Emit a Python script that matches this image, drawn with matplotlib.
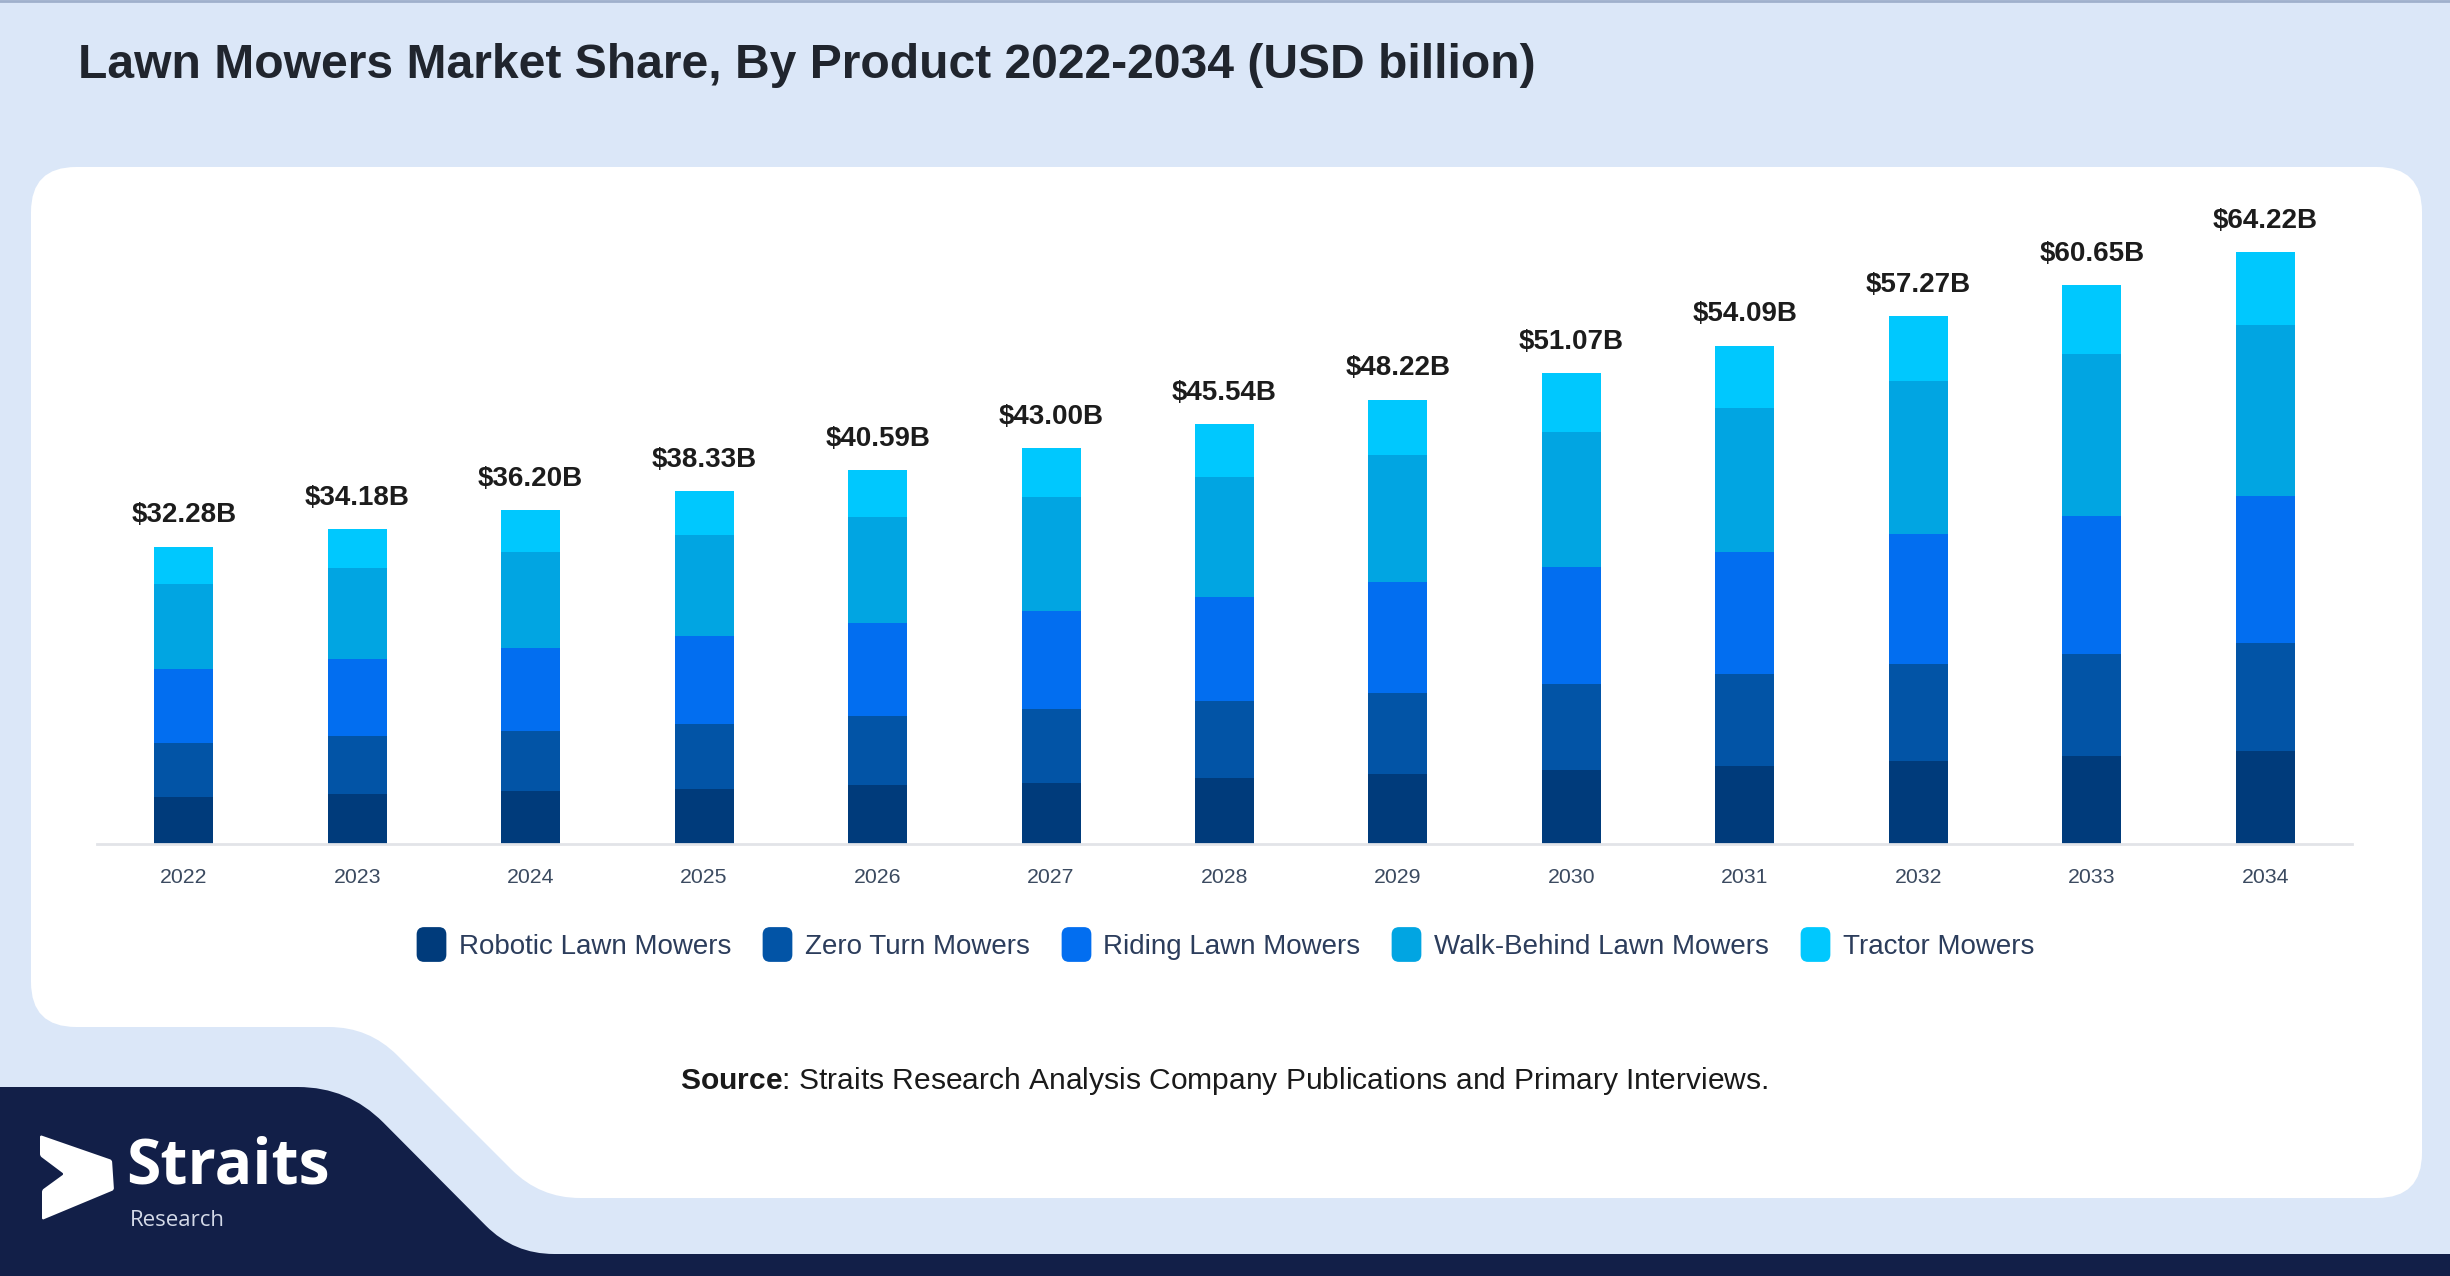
import numpy as np
import matplotlib.pyplot as plt
from matplotlib.path import Path
from matplotlib.patches import PathPatch
from matplotlib.lines import Line2D

plt.rcParams['font.family'] = ['Liberation Sans', 'DejaVu Sans']
plt.rcParams['mathtext.fontset'] = 'custom'
plt.rcParams['mathtext.rm'] = 'Liberation Sans'
plt.rcParams['mathtext.bf'] = 'Liberation Sans:bold'

years = ['2022', '2023', '2024', '2025', '2026', '2027', '2028',
         '2029', '2030', '2031', '2032', '2033', '2034']
totals = [32.28, 34.18, 36.20, 38.33, 40.59, 43.00, 45.54,
          48.22, 51.07, 54.09, 57.27, 60.65, 64.22]

# segment values (USD billion)
robotic = [5.11, 5.44, 5.73, 5.96, 6.41, 6.67, 7.16, 7.64, 8.04, 8.49, 9.01, 9.50, 10.12]
zero_turn = [5.85, 6.23, 6.58, 7.10, 7.47, 7.94, 8.33, 8.79, 9.32, 9.93, 10.48, 11.17, 11.74]
riding = [8.02, 8.43, 8.98, 9.48, 10.13, 10.69, 11.31, 11.97, 12.74, 13.29, 14.18, 14.94, 15.91]
walk_behind = [9.21, 9.85, 10.37, 11.02, 11.50, 12.36, 13.05, 13.86, 14.66, 15.63, 16.57, 17.58, 18.54]
tractor = [4.09, 4.23, 4.54, 4.77, 5.08, 5.34, 5.69, 5.96, 6.31, 6.75, 7.03, 7.46, 7.91]

series = [robotic, zero_turn, riding, walk_behind, tractor]
names = ['Robotic Lawn Mowers', 'Zero Turn Mowers', 'Riding Lawn Mowers',
         'Walk-Behind Lawn Mowers', 'Tractor Mowers']
colors = ['#003b7b', '#0254a6', '#026ef0', '#01a5e2', '#00c8fe']

W, H = 2450, 1276
fig = plt.figure(figsize=(W / 100, H / 100), dpi=100)
fig.patch.set_facecolor('#dbe7f8')


def rounded_path(pts, radii):
    # polygon with corners cut by quadratic curves
    verts, codes = [], []
    n = len(pts)
    for i in range(n):
        p0 = np.array(pts[i - 1], float)
        p1 = np.array(pts[i], float)
        p2 = np.array(pts[(i + 1) % n], float)
        r = radii[i]
        d1 = (p0 - p1) / np.linalg.norm(p0 - p1)
        d2 = (p2 - p1) / np.linalg.norm(p2 - p1)
        a = p1 + d1 * r
        b = p1 + d2 * r
        verts.append(a)
        codes.append(Path.MOVETO if i == 0 else Path.LINETO)
        verts += [p1, b]
        codes += [Path.CURVE3, Path.CURVE3]
    verts.append(verts[0])
    codes.append(Path.CLOSEPOLY)
    return Path(verts, codes)


# background shapes in pixel coordinates
bg = fig.add_axes([0, 0, 1, 1], zorder=0)
bg.set_xlim(0, W)
bg.set_ylim(H, 0)
bg.axis('off')

white_pts = [(31, 167), (2422, 167), (2422, 1198), (540, 1198), (369, 1027), (31, 1027)]
bg.add_patch(PathPatch(rounded_path(white_pts, [45, 45, 45, 40, 40, 45]),
                       facecolor='white', edgecolor='none'))

navy_pts = [(0, 1087), (348, 1087), (514, 1254), (W, 1254), (W, H), (0, H)]
bg.add_patch(PathPatch(rounded_path(navy_pts, [0, 50, 40, 0, 0, 0]),
                       facecolor='#121f48', edgecolor='none'))
bg.plot([0, W], [1, 1], color='#9fb0cc', lw=2)

# logo
arrow = [(40, 1135), (112, 1160), (114, 1190), (42, 1220), (42, 1190), (64, 1174), (40, 1156)]
bg.add_patch(PathPatch(rounded_path(arrow, [2] * 7), facecolor='white', edgecolor='none'))
bg.text(126, 1184, 'Straits', color='white', fontsize=45, fontweight='bold',
        family=['Open Sans', 'DejaVu Sans'], va='baseline', ha='left')
bg.text(130, 1226, 'Research', color='#d4dae8', fontsize=16,
        family=['Open Sans', 'DejaVu Sans'], va='baseline', ha='left')

# title and source
bg.text(78, 66, 'Lawn Mowers Market Share, By Product 2022-2034 (USD billion)',
        fontsize=34.6, fontweight='bold', color='#20252e', va='center', ha='left')
bg.text(1224, 1081, r'$\bf{Source}$: Straits Research Analysis Company Publications and Primary Interviews.',
        fontsize=21.6, color='#1a1a1a', va='center', ha='center')

# chart
ax = fig.add_axes([97 / W, 1 - 844 / H, (2352 - 97) / W, 645 / H], zorder=1)
ax.set_facecolor('none')
x = np.arange(len(years))
bottom = np.zeros(len(years))
for vals, name, c in zip(series, names, colors):
    ax.bar(x, vals, width=0.34, bottom=bottom, color=c, label=name, linewidth=0)
    bottom += np.array(vals)

for xi, top, t in zip(x, bottom, totals):
    ax.annotate(f'${t:.2f}B', (xi, top), xytext=(0, 22.5), textcoords='offset points',
                ha='center', va='center', fontsize=20, fontweight='bold', color='#1c1c1c',
                annotation_clip=False)

ax.set_xlim(-0.5, len(years) - 0.5)
ax.set_ylim(0, 70)
ax.set_xticks(x)
ax.set_xticklabels(years)
ax.tick_params(axis='x', length=0, pad=17, labelsize=15.3, labelcolor='#3b4a60')
ax.set_yticks([])
for s in ['top', 'right', 'left']:
    ax.spines[s].set_visible(False)
ax.spines['bottom'].set_color('#e2e4e8')
ax.spines['bottom'].set_linewidth(2)

# legend with rounded square markers
sq = rounded_path([(-0.85, -1), (0.85, -1), (0.85, 1), (-0.85, 1)], [0.4] * 4)
handles = [Line2D([], [], marker=sq, color=c, markersize=24, linestyle='none') for c in colors]
fig.legend(handles, names, loc='center', bbox_to_anchor=(0.5, 1 - 947 / H), ncol=5,
           frameon=False, fontsize=20, handlelength=1.1, handletextpad=0.45,
           columnspacing=1.1, labelcolor='#2c3d5c')

fig.savefig('out.png', dpi=100, facecolor=fig.get_facecolor())
